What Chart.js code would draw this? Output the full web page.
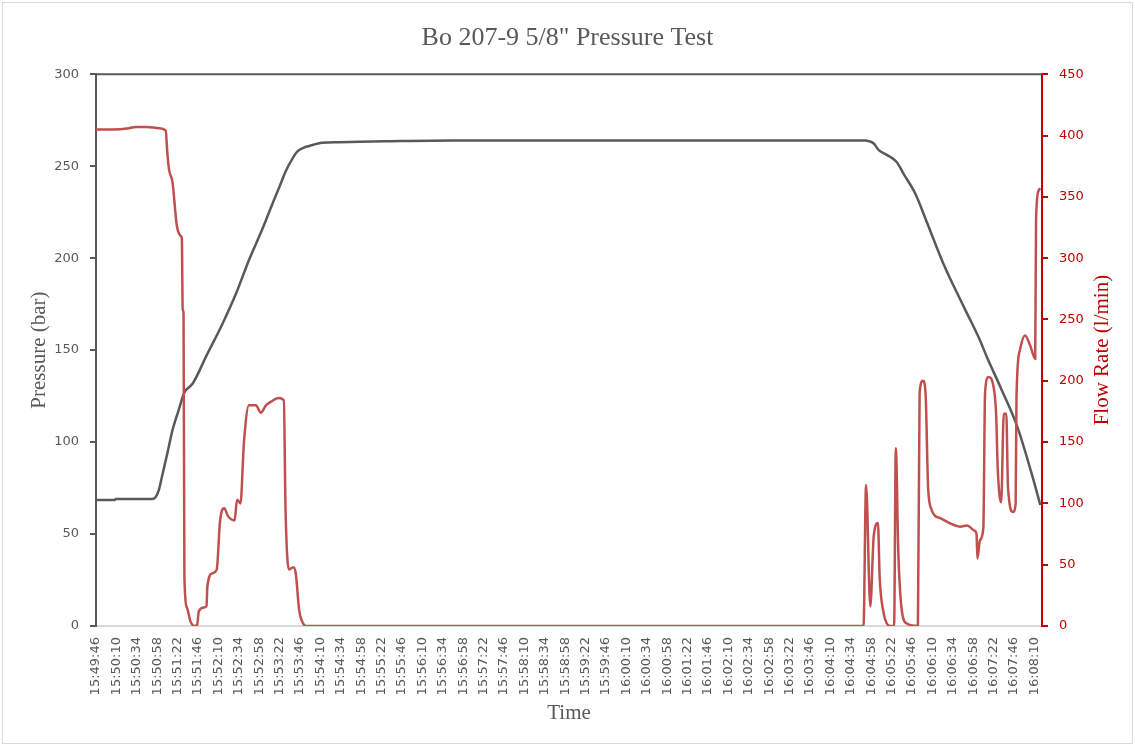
<!DOCTYPE html>
<html>
<head>
<meta charset="utf-8">
<title>Bo 207-9 5/8" Pressure Test</title>
<script src="https://cdn.jsdelivr.net/npm/chart.js@4.4.1/dist/chart.umd.min.js"></script>
<style>
    html, body { margin: 0; padding: 0; background: #ffffff; }
    #wrap { position: absolute; left: 0; top: 0; width: 1135px; height: 746px; }
</style>
</head>
<body>
<div id="wrap"><canvas id="chart" width="1135" height="746"></canvas></div>
<script>

// x tick labels (every 24 s)
const timeLabels = [
    "15:49:46", "15:50:10", "15:50:34", "15:50:58", "15:51:22", "15:51:46", "15:52:10", "15:52:34",
    "15:52:58", "15:53:22", "15:53:46", "15:54:10", "15:54:34", "15:54:58", "15:55:22", "15:55:46",
    "15:56:10", "15:56:34", "15:56:58", "15:57:22", "15:57:46", "15:58:10", "15:58:34", "15:58:58",
    "15:59:22", "15:59:46", "16:00:10", "16:00:34", "16:00:58", "16:01:22", "16:01:46", "16:02:10",
    "16:02:34", "16:02:58", "16:03:22", "16:03:46", "16:04:10", "16:04:34", "16:04:58", "16:05:22",
    "16:05:46", "16:06:10", "16:06:34", "16:06:58", "16:07:22", "16:07:46", "16:08:10"
];

// seconds after 15:49:46
const pressureTime = [0, 22, 23, 66, 70, 74, 78, 84, 90, 97, 104, 110, 114, 130, 149, 165, 180, 195, 208, 216,
    224, 231, 237, 244, 251, 266, 286, 340, 420, 905, 910, 915, 921, 931, 942, 950, 964, 978, 997, 1021,
    1040, 1048, 1064, 1084, 1103, 1111];

const pressure = [68.5, 68.5, 69, 69, 70, 74, 82, 94, 106.5, 117, 127, 130, 132, 147, 164.5, 181, 199, 215, 230, 239,
    248, 254, 258, 260, 261, 262.7, 263, 263.5, 264, 264, 263.5, 262.3, 258.7, 256, 252.3, 246, 235, 219, 197, 173.5,
    155.4, 146.4, 130, 108.3, 79.3, 65.8];

const flowTime = [0, 20, 39, 47, 60, 74, 82, 84, 86, 90, 95, 100, 101, 102, 103, 104, 107, 111, 116, 119,
    121, 127, 130, 131, 137, 142, 146, 151, 155, 163, 166, 170, 174, 180, 188, 194, 200, 206, 215, 221,
    223, 227, 232, 235, 239, 243, 247, 903, 906, 911, 915, 920, 922, 926, 934, 939, 941, 944, 948, 954,
    967, 969, 973, 976, 979, 983, 987, 993, 1017, 1025, 1033, 1036, 1037, 1040, 1044, 1046, 1050, 1056, 1059, 1061,
    1065, 1068, 1071, 1073, 1079, 1082, 1083, 1087, 1093, 1099, 1105, 1106, 1109, 1111];

const flow = [405, 405, 406, 407, 407, 406, 404, 385, 372, 362, 327, 318, 316, 258, 255, 40, 15, 4, 0, 1,
    12, 15, 16, 32, 43, 46, 86, 96, 90, 86, 103, 100, 149, 180, 180, 174, 180, 183, 186, 184,
    95, 46, 48, 43, 13, 3, 0, 0, 115, 16, 73, 84, 40, 13, 0, 0, 145, 59, 13, 2,
    0, 190, 200, 190, 113, 95, 90, 88, 81, 82, 78, 75, 55, 70, 80, 190, 203, 195, 173, 127,
    101, 173, 173, 113, 93, 100, 187, 225, 237, 229, 218, 331, 355, 357];

const gray = "#595959";
const red = "#c00000";
const serif = "'Liberation Serif', 'Times New Roman', serif";
const sans = "'DejaVu Sans', sans-serif";

function toSec(label) {
    const p = label.split(":").map(Number);
    return p[0] * 3600 + p[1] * 60 + p[2];
}

const start = toSec(timeLabels[0]);

const frame = {
    id: "frame",
    beforeDraw(chart) {
        const c = chart.ctx;
        c.save();
        c.strokeStyle = "#d9d9d9";
        c.lineWidth = 1;
        c.strokeRect(2.5, 2.5, 1130, 741);
        c.restore();
    },
    beforeDatasetsDraw(chart) {
        const a = chart.chartArea;
        const c = chart.ctx;
        c.save();
        c.strokeStyle = gray;
        c.lineWidth = 2;
        c.beginPath();
        c.moveTo(a.left, a.top);
        c.lineTo(a.right, a.top);
        c.stroke();
        c.restore();
    },
    afterDraw(chart) {
        const a = chart.chartArea;
        const c = chart.ctx;
        c.save();
        c.translate(1102, (a.top + a.bottom) / 2);
        c.rotate(-Math.PI / 2);
        c.font = "21px " + serif;
        c.fillStyle = red;
        c.textAlign = "center";
        c.textBaseline = "middle";
        c.fillText("Flow Rate (l/min)", 0, 0);
        c.restore();
    }
};

const ctx = document.getElementById("chart").getContext("2d");

const chart = new Chart(ctx, {

    type: "line",

    data: {
        datasets: [
            {
                label: "Pressure",
                data: pressureTime.map((t, i) => ({ x: t, y: pressure[i] })),
                borderColor: gray,
                borderWidth: 2.5,
                pointRadius: 0,
                cubicInterpolationMode: "monotone",
                yAxisID: "y",
                order: 2
            },
            {
                label: "Flow Rate",
                data: flowTime.map((t, i) => ({ x: t, y: flow[i] })),
                borderColor: "#c0504d",
                borderWidth: 2.5,
                pointRadius: 0,
                cubicInterpolationMode: "monotone",
                yAxisID: "y1",
                order: 1
            }
        ]
    },

    options: {
        responsive: false,
        animation: false,
        devicePixelRatio: 1,
        layout: { padding: 0 },

        scales: {
            x: {
                type: "linear",
                min: 0,
                max: 1113,
                afterBuildTicks: (scale) => {
                    scale.ticks = timeLabels.map(l => ({ value: toSec(l) - start }));
                },
                afterFit: (scale) => { scale.height = 120; },
                ticks: {
                    autoSkip: false,
                    minRotation: 90,
                    maxRotation: 90,
                    padding: 11,
                    color: gray,
                    font: { family: sans, size: 13 },
                    callback: (v, i) => timeLabels[i]
                },
                grid: { display: false, drawTicks: false },
                border: { color: "#d9d9d9", width: 2 },
                title: {
                    display: true,
                    text: "Time",
                    color: gray,
                    font: { family: serif, size: 21 },
                    padding: { top: 0, bottom: 20 }
                }
            },

            y: {
                position: "left",
                min: 0,
                max: 300,
                afterFit: (scale) => { scale.width = 96; },
                ticks: {
                    stepSize: 50,
                    padding: 11,
                    color: gray,
                    font: { family: sans, size: 13 }
                },
                grid: { drawOnChartArea: false, tickLength: 6, color: gray, lineWidth: 2 },
                border: { color: gray, width: 2 },
                title: {
                    display: true,
                    text: "Pressure (bar)",
                    color: gray,
                    font: { family: serif, size: 21 },
                    padding: { top: 27, bottom: 0 }
                }
            },

            y1: {
                position: "right",
                min: 0,
                max: 450,
                afterFit: (scale) => { scale.width = 93; },
                ticks: {
                    stepSize: 50,
                    padding: 11,
                    color: red,
                    font: { family: sans, size: 13 }
                },
                grid: { drawOnChartArea: false, tickLength: 6, color: red, lineWidth: 2 },
                border: { color: red, width: 2 }
            }
        },

        plugins: {
            legend: { display: false },
            tooltip: { enabled: false },
            title: {
                display: true,
                text: "Bo 207-9 5/8\" Pressure Test",
                color: gray,
                font: { family: serif, size: 26, weight: "normal" },
                padding: { top: 23, bottom: 20 }
            }
        }
    },

    plugins: [frame]

});

</script>
</body>
</html>
